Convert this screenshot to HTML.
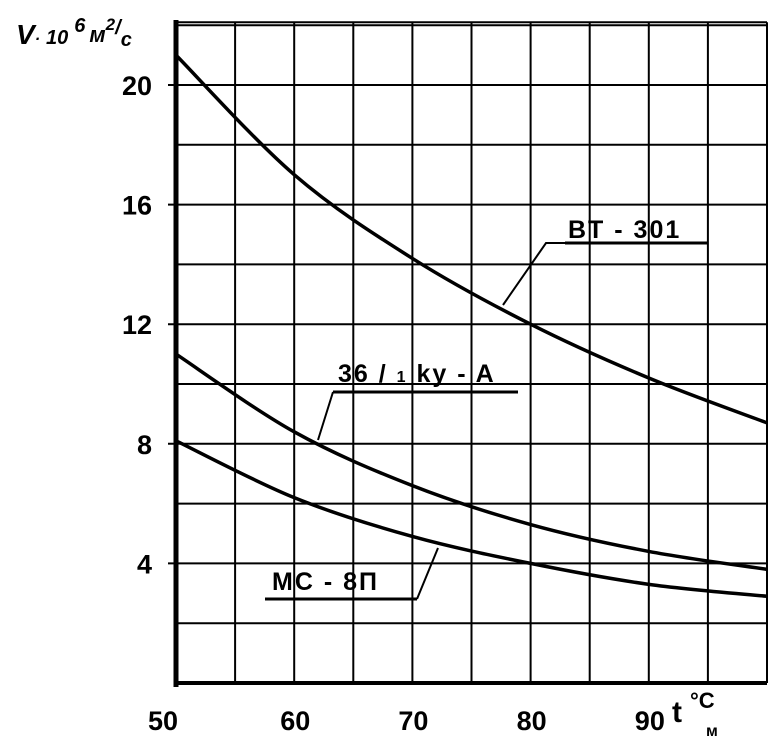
<!DOCTYPE html>
<html><head><meta charset="utf-8"><style>
html,body{margin:0;padding:0;background:#fff;}
svg{display:block;font-family:"Liberation Sans",sans-serif;font-weight:bold;}
</style></head><body>
<svg id="chart" width="769" height="751" viewBox="0 0 769 751" xmlns="http://www.w3.org/2000/svg">
<g id="grid"></g>
<g id="axes"></g>
<g id="series"></g>
<g id="labels">
  <text x="16" y="44" font-size="28" font-style="italic">V<tspan font-size="16">·</tspan><tspan font-size="20" dx="6">10</tspan><tspan font-size="20" dy="-12" dx="6">6</tspan><tspan font-size="22" dy="10" dx="4">м</tspan><tspan font-size="17" dy="-12">2</tspan><tspan font-size="20" dy="4">/</tspan><tspan font-size="20" dy="12">с</tspan></text>
  <text x="672" y="722" font-size="30">t</text>
  <text x="690" y="708" font-size="22">°C</text>
  <text x="706" y="736" font-size="16">м</text>
</g>
<g id="annot">
  <text x="568" y="238" font-size="25" letter-spacing="2">BT - 301</text>
  <line x1="565" y1="243" x2="708" y2="243" stroke="#000" stroke-width="3"/>
  <polyline points="565,243 546,243 503,305" fill="none" stroke="#000" stroke-width="2"/>
  <text x="338" y="382" font-size="25" letter-spacing="2">36 / <tspan font-size="16">1</tspan> ky - A</text>
  <line x1="333" y1="392" x2="518" y2="392" stroke="#000" stroke-width="3"/>
  <line x1="333" y1="392" x2="318" y2="440" stroke="#000" stroke-width="2"/>
  <text x="272" y="590" font-size="25" letter-spacing="2">MC - 8П</text>
  <line x1="265" y1="599" x2="417" y2="599" stroke="#000" stroke-width="3"/>
  <line x1="417" y1="599" x2="438" y2="548" stroke="#000" stroke-width="2"/>
</g>
</svg>
<script>
const xTicks = [50, 60, 70, 80, 90];
const yTicks = [4, 8, 12, 16, 20];
const temps = [50, 60, 70, 80, 90, 100];
const bt301 = [21.0, 17.0, 14.2, 12.0, 10.2, 8.7];
const kyA = [11.0, 8.4, 6.6, 5.3, 4.4, 3.8];
const mc8p = [8.1, 6.2, 4.9, 4.0, 3.3, 2.9];

const NS = "http://www.w3.org/2000/svg";
const X0 = 176, XPU = 11.82;
const Y0 = 683, YPU = 29.9;
function sx(t){ return X0 + (t - 50) * XPU; }
function sy(v){ return Y0 - v * YPU; }
function mk(tag, attrs, parent){
  const e = document.createElementNS(NS, tag);
  for (const k in attrs) e.setAttribute(k, attrs[k]);
  parent.appendChild(e); return e;
}
const grid = document.getElementById('grid');
for (let t = 55; t <= 100; t += 5) {
  const l = mk('line', {x1: sx(t), x2: sx(t), y1: sy(22.1), y2: Y0, stroke: '#000', 'stroke-width': 2}, grid);
  
  
}
for (let v = 2; v <= 22; v += 2) {
  const l = mk('line', {x1: X0 - (v % 4 === 0 ? 8 : 0), x2: sx(100), y1: sy(v), y2: sy(v), stroke: '#000', 'stroke-width': 2}, grid);
  
  
}
const topL = mk('line', {x1: X0, x2: sx(100), y1: sy(22.1), y2: sy(22.1), stroke: '#000', 'stroke-width': 2}, grid);



const axes = document.getElementById('axes');
const ya = mk('line', {x1: X0, x2: X0, y1: 20, y2: Y0 + 4, stroke: '#000', 'stroke-width': 5}, axes);


const xa = mk('line', {x1: X0, x2: sx(100), y1: Y0, y2: Y0, stroke: '#000', 'stroke-width': 4}, axes);


xTicks.forEach(t => {
  const tx = mk('text', {x: sx(t) - (t === 50 ? 28 : 14), y: 730, 'font-size': 27}, axes);
  tx.textContent = t;
  
  
});
yTicks.forEach(v => {
  const tx = mk('text', {x: 152, y: sy(v) + 10, 'font-size': 27, 'text-anchor': 'end'}, axes);
  tx.textContent = v;
  
  
});

const series = document.getElementById('series');
function smoothPath(vals){
  const pts = temps.map((t, i) => [sx(t), sy(vals[i])]);
  let d = 'M' + pts[0][0] + ',' + pts[0][1];
  for (let i = 0; i < pts.length - 1; i++) {
    const p0 = pts[i - 1] || pts[i], p1 = pts[i], p2 = pts[i + 1], p3 = pts[i + 2] || p2;
    const c1 = [p1[0] + (p2[0] - p0[0]) / 6, p1[1] + (p2[1] - p0[1]) / 6];
    const c2 = [p2[0] - (p3[0] - p1[0]) / 6, p2[1] - (p3[1] - p1[1]) / 6];
    d += ' C' + c1.join(',') + ' ' + c2.join(',') + ' ' + p2.join(',');
  }
  return d;
}
[['curve-bt-301', bt301], ['curve-36-1-ky-a', kyA], ['curve-mc-8p', mc8p]].forEach(([n, v]) => {
  const p = mk('path', {d: smoothPath(v), fill: 'none', stroke: '#000', 'stroke-width': 3.5}, series);
  
  
});
</script>
</body></html>
